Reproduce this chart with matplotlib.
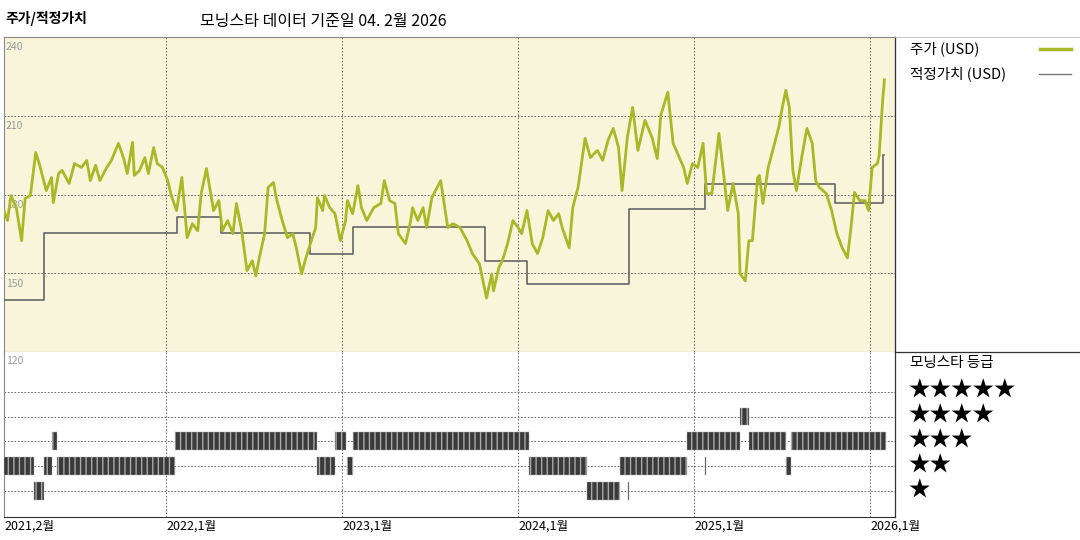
import matplotlib.pyplot as plt

plt.rcParams['font.family'] = ['Noto Sans CJK KR', 'DejaVu Sans']

# price (USD), fractional year
price_t = [2021.08, 2021.10, 2021.12, 2021.15, 2021.18, 2021.20, 2021.23, 2021.26, 2021.28, 2021.32,
           2021.35, 2021.36, 2021.39, 2021.41, 2021.45, 2021.48, 2021.52, 2021.55, 2021.57, 2021.60,
           2021.625, 2021.66, 2021.69, 2021.73, 2021.76, 2021.78, 2021.81, 2021.82, 2021.85, 2021.88,
           2021.90, 2021.93, 2021.95, 2021.98, 2022.01, 2022.03, 2022.06, 2022.09, 2022.12, 2022.15,
           2022.18, 2022.20, 2022.23, 2022.27, 2022.30, 2022.32, 2022.35, 2022.38, 2022.40, 2022.43,
           2022.46, 2022.49, 2022.51, 2022.53, 2022.56, 2022.58, 2022.61, 2022.63, 2022.66, 2022.69,
           2022.72, 2022.74, 2022.77, 2022.79, 2022.82, 2022.85, 2022.86, 2022.89, 2022.90, 2022.93,
           2022.96, 2022.99, 2023.02, 2023.03, 2023.06, 2023.09,
           2023.11, 2023.14, 2023.18, 2023.22, 2023.24, 2023.27, 2023.30, 2023.32, 2023.36, 2023.39,
           2023.40, 2023.43, 2023.46, 2023.48, 2023.51, 2023.54, 2023.56, 2023.60, 2023.63, 2023.67,
           2023.71, 2023.74, 2023.78, 2023.82, 2023.85, 2023.86, 2023.89, 2023.91, 2023.94, 2023.97,
           2024.00, 2024.02, 2024.05, 2024.08, 2024.11, 2024.14, 2024.17, 2024.20, 2024.23, 2024.25,
           2024.29, 2024.31, 2024.34, 2024.38, 2024.41, 2024.45, 2024.48, 2024.51, 2024.54, 2024.57,
           2024.59, 2024.62, 2024.65, 2024.68, 2024.72, 2024.76, 2024.79,
           2024.81, 2024.85, 2024.88, 2024.94, 2024.96, 2024.99, 2025.02, 2025.05, 2025.07, 2025.10,
           2025.14, 2025.16, 2025.19, 2025.22, 2025.25, 2025.26, 2025.29, 2025.31, 2025.33, 2025.36,
           2025.37, 2025.39, 2025.42, 2025.45, 2025.48, 2025.50, 2025.52, 2025.54, 2025.56, 2025.58,
           2025.61, 2025.64, 2025.67, 2025.69, 2025.71, 2025.75, 2025.78, 2025.81, 2025.84, 2025.87,
           2025.89, 2025.91, 2025.94, 2025.97, 2025.99, 2026.01, 2026.04, 2026.05, 2026.07, 2026.08]
price = [173.9, 170.1, 179.6, 175.0, 162.4, 178.5, 179.6, 196.0, 191.8, 181.5,
         186.5, 176.9, 188.0, 189.2, 184.2, 191.8, 190.3, 193.0, 185.3, 191.1,
         185.3, 189.9, 193.0, 199.5, 193.7, 188.0, 199.9, 187.3, 189.2, 194.1,
         188.0, 197.9, 191.8, 190.3, 185.3, 179.6, 173.9, 186.5, 163.6, 168.9,
         166.2, 180.4, 189.9, 173.9, 177.7, 166.2, 170.1, 165.1, 176.6, 166.2,
         151.0, 154.8, 149.0, 155.9, 165.1, 182.7, 184.6, 177.7, 170.1, 163.6,
         165.1, 159.7, 149.8, 154.8, 161.3, 167.4, 178.8, 173.9, 179.6, 175.0,
         172.7, 162.4, 170.1, 177.7, 172.7, 183.4,
         175.0, 170.1, 175.0, 176.6, 185.3, 177.7, 176.6, 165.1, 161.3, 170.1,
         175.0, 170.1, 175.0, 167.4, 178.8, 182.7, 185.3, 167.4, 168.9, 167.4,
         162.4, 157.5, 153.6, 140.6, 149.8, 143.3, 152.1, 154.8, 161.3, 170.1,
         167.4, 165.1, 173.9, 161.3, 157.5, 163.6, 173.9, 170.1, 172.7, 167.4,
         159.7, 175.0, 182.7, 201.4, 194.1, 196.8, 193.0, 200.6, 205.2, 197.9,
         181.5, 201.8, 213.2, 196.8, 208.3, 201.8, 193.7,
         210.2, 219.0, 199.5, 190.3, 184.2, 191.8, 190.3, 199.5, 180.4, 180.4,
         203.3, 191.8, 173.9, 184.2, 172.7, 149.8, 147.1, 162.4, 162.4, 186.5,
         187.3, 176.6, 190.3, 197.9, 205.6, 213.2, 219.7, 213.2, 189.2, 181.5,
         194.1, 205.2, 199.5, 185.3, 182.7, 180.4, 173.9, 165.1, 159.7, 155.9,
         167.4, 180.8, 177.7, 177.7, 173.9, 190.3, 191.8, 194.9, 215.9, 223.7]

# fair value (USD), step changes
fv_t = [2021.08, 2021.31, 2022.06, 2022.31, 2022.82, 2023.06, 2023.81, 2024.05, 2024.63,
        2025.06, 2025.80, 2026.07, 2026.08]
fv = [140.0, 165.5, 171.6, 165.5, 157.5, 167.8, 154.8, 146.0, 174.6, 184.2, 176.6, 194.9, 194.9]

# morningstar rating periods: (stars, start, end)
ratings = [
    (3, 2021.35, 2021.38), (3, 2022.05, 2022.86), (3, 2022.96, 2023.02), (3, 2023.06, 2024.06),
    (3, 2024.96, 2025.26), (3, 2025.31, 2025.52), (3, 2025.55, 2026.09),
    (2, 2021.08, 2021.25), (2, 2021.31, 2021.35), (2, 2021.38, 2022.05), (2, 2022.86, 2022.96),
    (2, 2023.03, 2023.06), (2, 2024.06, 2024.39), (2, 2024.58, 2024.96), (2, 2025.06, 2025.065),
    (2, 2025.52, 2025.55),
    (1, 2021.25, 2021.31), (1, 2024.39, 2024.58), (1, 2024.625, 2024.63),
    (4, 2025.26, 2025.31),
]

xticks = [2021.08, 2022.0, 2023.0, 2024.0, 2025.0, 2026.0]
xlabels = ['2021,2월', '2022,1월', '2023,1월', '2024,1월', '2025,1월', '2026,1월']

green = '#a9b826'
grid_kw = dict(color='#555555', linestyle=(0, (2, 2)), linewidth=0.6)
x0, x1 = 2021.08, 2026.14

fig = plt.figure(figsize=(10.8, 5.4), dpi=100)
ax = fig.add_axes([0.0037, 0.348, 0.825, 0.5835])
axr = fig.add_axes([0.0037, 0.0426, 0.825, 0.3054])

ax.set_facecolor('#f8f5da')
ax.set_xlim(x0, x1)
ax.set_ylim(120, 240)
for v in [150, 180, 210]:
    ax.axhline(v, **grid_kw, zorder=1)
for t in xticks[1:]:
    ax.axvline(t, **grid_kw, zorder=1)
    axr.axvline(t, **grid_kw, zorder=1)
for v in [240, 210, 180, 150]:
    ax.text(x0 + 0.01, v - 2, str(v), color='#999999', fontsize=7.5, va='top', zorder=2)
ax.step(fv_t, fv, where='post', color='#666666', lw=1.2, zorder=3)
ax.plot(price_t, price, color=green, lw=2, zorder=4)
ax.set_xticks([])
ax.set_yticks([])
for s in ax.spines.values():
    s.set_color('#888888')
    s.set_linewidth(0.8)

axr.set_xlim(x0, x1)
axr.set_ylim(-0.05, 6.6)
for r in range(1, 6):
    axr.axhline(r, **grid_kw, zorder=1)
for stars, a, b in ratings:
    axr.broken_barh([(a, max(b - a, 0.004))], (stars - 0.36, 0.72),
                    facecolor='#3a3a3a', edgecolor='#aaaaaa', linewidth=0.3, hatch='|||', zorder=3)
axr.text(x0 + 0.01, 6.45, '120', color='#999999', fontsize=7.5, va='top')
axr.set_yticks([])
axr.set_xticks(xticks)
axr.set_xticklabels(xlabels, ha='left', fontsize=9)
axr.tick_params(axis='x', length=0, pad=2)
for s in ['top', 'right']:
    axr.spines[s].set_visible(False)
axr.spines['left'].set_color('#888888')
axr.spines['bottom'].set_color('#333333')

# legend panel lines
fig.add_artist(plt.Line2D([0.8287, 0.8287], [0.0426, 0.9315], color='#333333', lw=0.9))
fig.add_artist(plt.Line2D([0.8287, 1.0], [0.348, 0.348], color='#333333', lw=0.9))
fig.add_artist(plt.Line2D([0.8287, 1.0], [0.9315, 0.9315], color='#bbbbbb', lw=0.6))

fig.text(0.843, 0.91, '주가 (USD)', fontsize=10.5, va='center')
fig.add_artist(plt.Line2D([0.963, 0.992], [0.91, 0.91], color=green, lw=2.5))
fig.text(0.843, 0.863, '적정가치 (USD)', fontsize=10.5, va='center')
fig.add_artist(plt.Line2D([0.962, 0.992], [0.863, 0.863], color='#777777', lw=1))
fig.text(0.843, 0.328, '모닝스타 등급', fontsize=10.5, va='center')
for i, n in enumerate([5, 4, 3, 2, 1]):
    fig.text(0.841, 0.276 - i * 0.0462, '★' * n, fontsize=15.5, va='center')

fig.text(0.005, 0.965, '주가/적정가치', fontsize=10, fontweight='bold', va='center')
fig.text(0.185, 0.961, '모닝스타 데이터 기준일 04. 2월 2026', fontsize=11.5, va='center')

plt.savefig('out.png', dpi=100)
